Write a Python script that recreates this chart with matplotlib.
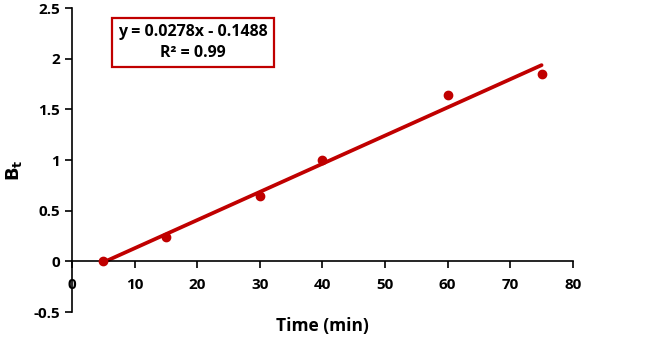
import matplotlib.pyplot as plt
import numpy as np

# data
time_min = [5, 15, 30, 40, 60, 75]
bt = [0.0, 0.245, 0.64, 1.0, 1.645, 1.845]
slope = 0.0278
intercept = -0.1488
eq_text = 'y = 0.0278x - 0.1488\nR² = 0.99'

red = '#C00000'
plt.rcParams['font.family'] = ['Open Sans', 'DejaVu Sans']
plt.rcParams['font.weight'] = 'bold'

fig = plt.figure(figsize=(6.45, 3.41), dpi=100)
ax = fig.add_axes([0.1116, 0.085, 0.7766, 0.8915])

# trendline between first and last point
xs = np.array([time_min[0], time_min[-1]])
ax.plot(xs, slope * xs + intercept, color=red, lw=2.7, solid_capstyle='round', zorder=2)
ax.plot(time_min, bt, 'o', color=red, ms=6, zorder=3)

ax.set_xlim(0, 80)
ax.set_ylim(-0.5, 2.5)
ax.set_xticks(range(0, 81, 10))
ax.set_yticks(np.arange(-0.5, 2.51, 0.5))
ax.set_yticklabels(['-0.5', '0', '0.5', '1', '1.5', '2', '2.5'])

ax.spines['top'].set_visible(False)
ax.spines['right'].set_visible(False)
ax.spines['bottom'].set_position(('data', 0))
ax.spines['bottom'].set_linewidth(1.2)
ax.spines['left'].set_linewidth(1.2)
ax.tick_params(axis='both', direction='out', length=5, width=1.2, labelsize=11)
ax.tick_params(axis='x', pad=7)
for lab in ax.get_xticklabels() + ax.get_yticklabels():
    lab.set_fontweight('bold')

fig.text(0.5, 0.045, 'Time (min)', ha='center', va='center', fontsize=12.5, fontweight='bold')
fig.text(0.022, 0.5, r'$\mathbf{B_t}$', ha='center', va='center', rotation=90, fontsize=13)

ax.text(19.3, 2.16, eq_text, ha='center', va='center', fontsize=11.5, fontweight='bold',
        linespacing=1.35,
        bbox=dict(boxstyle='square,pad=0.4', fc='white', ec=red, lw=1.6))

fig.savefig('out.png', dpi=100)
